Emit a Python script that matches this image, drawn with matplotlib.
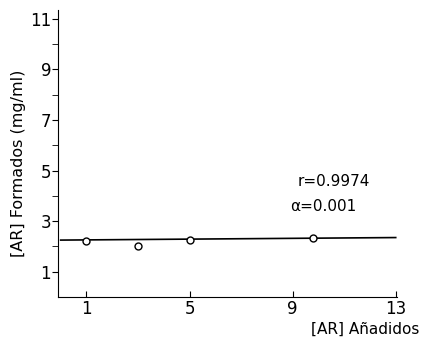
import matplotlib.pyplot as plt

x_added = [1, 3, 5, 9.8]
y_formed = [2.2, 2.0, 2.25, 2.33]
fit_x = [0, 13]
fit_y = [2.25, 2.35]
x_ticks = [1, 5, 9, 13]
y_ticks = [1, 3, 5, 7, 9, 11]

fig = plt.figure(figsize=(4.21, 3.41), dpi=100)
ax = fig.add_axes([0.138, 0.129, 0.805, 0.842])

ax.plot(fit_x, fit_y, color="black", lw=1.2)
ax.plot(x_added, y_formed, "o", mfc="white", mec="black", ms=5, mew=1)

ax.set_xlim(-0.1, 13.05)
ax.set_ylim(0, 11.35)
ax.set_xticks(x_ticks)
ax.set_yticks(y_ticks)
ax.set_yticks([2, 4, 6, 8, 10], minor=True)
ax.tick_params(axis="y", which="both", direction="out", length=4, labelsize=12, pad=1)
ax.tick_params(axis="x", direction="in", length=4, labelsize=12, pad=2)
for s in ["top", "right"]:
    ax.spines[s].set_visible(False)

ax.text(9.2, 4.4, "r=0.9974", fontsize=11)
ax.text(8.9, 3.4, "α=0.001", fontsize=11)

fig.text(0.045, 0.52, "[AR] Formados (mg/ml)", rotation=90, fontsize=11.5,
         ha="center", va="center")
fig.text(0.995, 0.035, "[AR] Añadidos", fontsize=11, ha="right", va="center")

fig.savefig("out.png")
